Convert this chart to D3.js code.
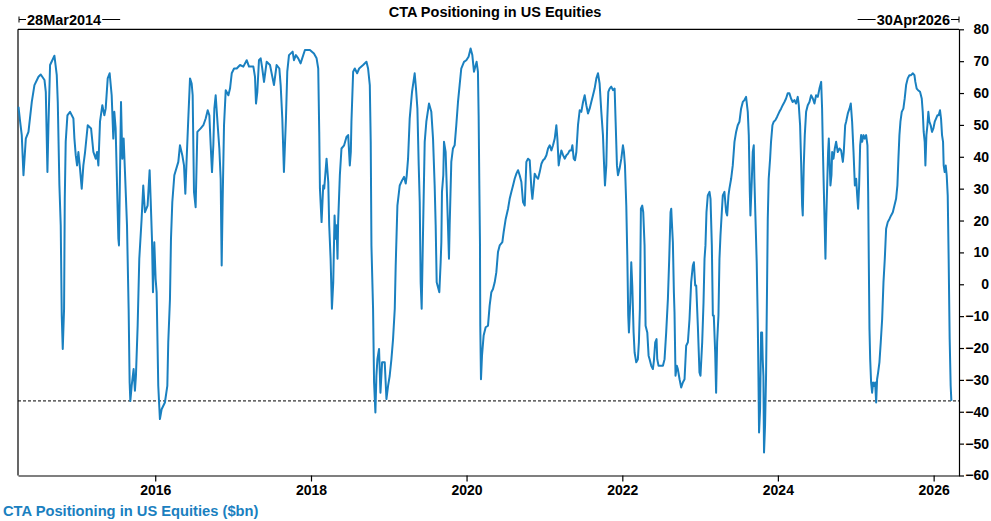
<!DOCTYPE html>
<html>
<head>
<meta charset="utf-8">
<script src="https://cdn.jsdelivr.net/npm/d3@7"></script>
<style>
  body { margin: 0; background: #fff; }
  svg { display: block; font-family: "Liberation Sans", Arial, sans-serif; }
</style>
</head>
<body>
<svg id="chart"></svg>
<script>
// CTA positioning ($bn). Dates as decimal years
const yearFrac = [
  2014.242, 2014.263, 2014.284, 2014.306, 2014.336, 2014.370, 2014.413, 2014.447, 2014.499, 2014.528,
  2014.576, 2014.593, 2014.614, 2014.627, 2014.648, 2014.704, 2014.734, 2014.747, 2014.768, 2014.785,
  2014.798, 2014.811, 2014.828, 2014.837, 2014.849, 2014.871, 2014.905, 2014.948, 2014.961, 2014.978,
  2014.995, 2015.012, 2015.033, 2015.055, 2015.076, 2015.098, 2015.132, 2015.175, 2015.205, 2015.235,
  2015.252, 2015.269, 2015.290, 2015.320, 2015.346, 2015.363, 2015.389, 2015.414, 2015.440, 2015.461,
  2015.474, 2015.491, 2015.526, 2015.534, 2015.560, 2015.577, 2015.594, 2015.611, 2015.637, 2015.658,
  2015.671, 2015.680, 2015.697, 2015.722, 2015.739, 2015.752, 2015.774, 2015.795, 2015.825, 2015.846,
  2015.868, 2015.902, 2015.928, 2015.941, 2015.958, 2015.971, 2015.988, 2016.005, 2016.018, 2016.039,
  2016.060, 2016.082, 2016.124, 2016.155, 2016.167, 2016.189, 2016.202, 2016.219, 2016.245, 2016.296,
  2016.317, 2016.347, 2016.369, 2016.386, 2016.403, 2016.424, 2016.446, 2016.467, 2016.480, 2016.497,
  2016.518, 2016.540, 2016.583, 2016.617, 2016.647, 2016.673, 2016.694, 2016.711, 2016.728, 2016.745,
  2016.758, 2016.775, 2016.801, 2016.822, 2016.839, 2016.852, 2016.865, 2016.882, 2016.904, 2016.938,
  2016.959, 2016.981, 2017.011, 2017.045, 2017.088, 2017.130, 2017.173, 2017.203, 2017.259, 2017.280,
  2017.293, 2017.310, 2017.331, 2017.353, 2017.370, 2017.396, 2017.430, 2017.473, 2017.524, 2017.558,
  2017.593, 2017.610, 2017.631, 2017.652, 2017.678, 2017.695, 2017.717, 2017.764, 2017.781, 2017.806,
  2017.836, 2017.866, 2017.922, 2017.986, 2018.038, 2018.072, 2018.093, 2018.106, 2018.115, 2018.136,
  2018.157, 2018.170, 2018.200, 2018.222, 2018.234, 2018.252, 2018.269, 2018.286, 2018.303, 2018.315,
  2018.328, 2018.341, 2018.349, 2018.371, 2018.392, 2018.426, 2018.456, 2018.478, 2018.499, 2018.512,
  2018.520, 2018.542, 2018.563, 2018.593, 2018.619, 2018.670, 2018.713, 2018.734, 2018.756, 2018.768,
  2018.777, 2018.798, 2018.811, 2018.828, 2018.841, 2018.854, 2018.875, 2018.893, 2018.914, 2018.948,
  2018.970, 2018.991, 2019.012, 2019.034, 2019.055, 2019.077, 2019.089, 2019.111, 2019.141, 2019.171,
  2019.196, 2019.218, 2019.231, 2019.248, 2019.269, 2019.299, 2019.333, 2019.350, 2019.368, 2019.385,
  2019.398, 2019.410, 2019.423, 2019.445, 2019.462, 2019.483, 2019.517, 2019.547, 2019.569, 2019.590,
  2019.603, 2019.616, 2019.650, 2019.667, 2019.676, 2019.684, 2019.701, 2019.710, 2019.731, 2019.761,
  2019.774, 2019.783, 2019.804, 2019.825, 2019.847, 2019.868, 2019.890, 2019.911, 2019.932, 2019.967,
  2019.997, 2020.026, 2020.052, 2020.074, 2020.095, 2020.129, 2020.146, 2020.155, 2020.163, 2020.172,
  2020.176, 2020.185, 2020.198, 2020.219, 2020.245, 2020.275, 2020.296, 2020.318, 2020.339, 2020.361,
  2020.382, 2020.403, 2020.425, 2020.459, 2020.476, 2020.502, 2020.532, 2020.553, 2020.575, 2020.596,
  2020.617, 2020.639, 2020.660, 2020.681, 2020.703, 2020.724, 2020.746, 2020.767, 2020.788, 2020.810,
  2020.831, 2020.844, 2020.861, 2020.874, 2020.895, 2020.917, 2020.938, 2020.960, 2020.981, 2021.002,
  2021.024, 2021.045, 2021.067, 2021.088, 2021.109, 2021.131, 2021.152, 2021.165, 2021.182, 2021.195,
  2021.216, 2021.238, 2021.259, 2021.281, 2021.302, 2021.323, 2021.345, 2021.358, 2021.375, 2021.392,
  2021.409, 2021.430, 2021.452, 2021.473, 2021.495, 2021.516, 2021.537, 2021.559, 2021.580, 2021.601,
  2021.623, 2021.644, 2021.666, 2021.687, 2021.708, 2021.730, 2021.751, 2021.764, 2021.777, 2021.794,
  2021.807, 2021.820, 2021.837, 2021.858, 2021.880, 2021.901, 2021.914, 2021.931, 2021.944, 2021.965,
  2021.987, 2022.008, 2022.021, 2022.034, 2022.051, 2022.064, 2022.076, 2022.085, 2022.102, 2022.115,
  2022.128, 2022.145, 2022.158, 2022.179, 2022.200, 2022.213, 2022.226, 2022.239, 2022.256, 2022.269,
  2022.286, 2022.299, 2022.321, 2022.338, 2022.351, 2022.372, 2022.393, 2022.406, 2022.423, 2022.440,
  2022.449, 2022.466, 2022.492, 2022.522, 2022.543, 2022.564, 2022.586, 2022.603, 2022.620, 2022.629,
  2022.637, 2022.650, 2022.663, 2022.671, 2022.684, 2022.701, 2022.714, 2022.736, 2022.757, 2022.778,
  2022.800, 2022.821, 2022.843, 2022.864, 2022.885, 2022.907, 2022.920, 2022.937, 2022.950, 2022.971,
  2022.992, 2023.005, 2023.027, 2023.044, 2023.057, 2023.069, 2023.082, 2023.099, 2023.121, 2023.134,
  2023.151, 2023.164, 2023.176, 2023.194, 2023.206, 2023.219, 2023.236, 2023.249, 2023.262, 2023.279,
  2023.292, 2023.313, 2023.335, 2023.348, 2023.365, 2023.377, 2023.399, 2023.420, 2023.442, 2023.463,
  2023.484, 2023.506, 2023.527, 2023.549, 2023.570, 2023.591, 2023.613, 2023.626, 2023.639, 2023.647,
  2023.664, 2023.677, 2023.690, 2023.698, 2023.711, 2023.728, 2023.741, 2023.750, 2023.758, 2023.771,
  2023.784, 2023.797, 2023.805, 2023.814, 2023.822, 2023.835, 2023.848, 2023.861, 2023.870, 2023.882,
  2023.900, 2023.912, 2023.930, 2023.947, 2023.968, 2023.989, 2024.019, 2024.041, 2024.062, 2024.084,
  2024.105, 2024.126, 2024.148, 2024.169, 2024.190, 2024.212, 2024.233, 2024.255, 2024.268, 2024.285,
  2024.298, 2024.311, 2024.319, 2024.332, 2024.345, 2024.362, 2024.383, 2024.405, 2024.426, 2024.448,
  2024.469, 2024.490, 2024.512, 2024.533, 2024.555, 2024.567, 2024.576, 2024.589, 2024.602, 2024.610,
  2024.619, 2024.632, 2024.644, 2024.653, 2024.661, 2024.674, 2024.687, 2024.696, 2024.713, 2024.730,
  2024.747, 2024.768, 2024.790, 2024.811, 2024.833, 2024.845, 2024.863, 2024.875, 2024.897, 2024.918,
  2024.935, 2024.952, 2024.970, 2024.987, 2025.004, 2025.017, 2025.029, 2025.042, 2025.055, 2025.068,
  2025.081, 2025.098, 2025.115, 2025.132, 2025.149, 2025.158, 2025.166, 2025.175, 2025.184, 2025.196,
  2025.209, 2025.222, 2025.235, 2025.248, 2025.261, 2025.273, 2025.286, 2025.303, 2025.320, 2025.338,
  2025.355, 2025.372, 2025.389, 2025.410, 2025.432, 2025.453, 2025.475, 2025.496, 2025.517, 2025.534,
  2025.547, 2025.560, 2025.573, 2025.590, 2025.611, 2025.628, 2025.646, 2025.667, 2025.688, 2025.710,
  2025.731, 2025.753, 2025.765, 2025.782, 2025.800, 2025.825, 2025.847, 2025.860, 2025.872, 2025.885,
  2025.894, 2025.907, 2025.920, 2025.932, 2025.945, 2025.962, 2025.979, 2025.997, 2026.014, 2026.031,
  2026.048, 2026.065, 2026.082, 2026.095, 2026.108, 2026.121, 2026.129, 2026.142, 2026.155, 2026.168,
  2026.181, 2026.193, 2026.206, 2026.219, 2026.228
];

const values = [
  55.7, 51.0, 46.8, 34.2, 45.7, 47.8, 57.2, 62.5, 65.1, 65.8,
  64.1, 60.4, 35.2, 49.9, 68.8, 71.7, 65.6, 57.2, 31.0, 18.5,
  -9.8, -20.3, -7.7, 26.8, 44.7, 53.0, 54.1, 52.0, 45.7, 40.5,
  37.3, 41.5, 36.3, 30.0, 37.3, 41.5, 49.9, 48.9, 41.5, 39.4,
  41.5, 37.3, 51.0, 56.2, 53.0, 55.1, 64.6, 66.2, 59.3, 45.7,
  54.1, 48.9, 14.3, 12.2, 57.2, 39.4, 45.7, 35.2, 18.5, -7.7,
  -30.8, -36.6, -31.9, -26.6, -33.4, -28.7, -13.0, 8.0, 20.5, 31.0,
  22.6, 24.7, 35.8, 26.8, 14.3, -2.5, 13.2, 1.7, -2.5, -31.9,
  -42.3, -39.2, -37.1, -31.9, -18.2, -4.6, 14.3, 25.8, 34.2, 38.4,
  43.6, 40.5, 37.3, 28.4, 39.4, 52.0, 64.6, 63.0, 59.3, 29.0,
  24.2, 47.8, 48.9, 49.9, 52.0, 54.6, 53.0, 43.6, 35.2, 43.6,
  55.1, 59.3, 49.9, 42.6, 33.1, 5.9, 26.9, 49.9, 60.9, 59.3,
  61.4, 66.2, 67.7, 67.7, 68.8, 68.3, 70.3, 68.3, 68.3, 65.1,
  56.7, 60.4, 70.3, 70.9, 68.3, 63.5, 69.8, 68.8, 62.5, 68.8,
  67.7, 62.5, 52.0, 35.2, 52.0, 66.7, 71.9, 73.0, 70.3, 71.9,
  70.9, 69.3, 73.5, 73.5, 72.4, 70.9, 67.7, 47.8, 30.0, 19.5,
  31.0, 30.0, 39.4, 32.1, 18.5, 8.0, -7.7, 0.6, 21.6, 14.3,
  18.5, 8.0, 19.5, 34.2, 42.6, 43.6, 46.2, 46.8, 37.3, 41.5,
  51.0, 66.7, 67.7, 66.2, 67.7, 68.8, 69.8, 67.7, 62.5, 44.7,
  12.2, -7.7, -30.8, -40.2, -28.7, -23.5, -20.3, -34.0, -24.5, -24.5,
  -36.0, -31.9, -28.7, -23.5, -17.2, -7.7, 5.9, 24.7, 31.0, 32.6,
  33.7, 31.6, 34.2, 39.4, 52.0, 60.4, 66.2, 61.4, 55.1, 37.3,
  25.8, 0.6, -7.7, 22.6, 44.7, 51.0, 56.7, 54.1, 45.7, 31.0,
  18.5, 0.6, -2.5, 6.9, 13.2, 29.0, 34.2, 44.7, 41.5, 18.5,
  8.0, 18.5, 38.4, 42.6, 43.6, 49.9, 57.2, 62.5, 67.7, 69.8,
  70.3, 71.4, 74.0, 71.9, 66.7, 69.8, 66.7, 53.0, 33.1, 13.2,
  -13.0, -29.8, -22.4, -16.1, -13.5, -13.0, -6.7, -2.5, -1.5, 0.6,
  3.8, 10.1, 12.2, 13.2, 16.4, 20.5, 23.7, 26.8, 29.0, 31.0,
  33.1, 34.7, 35.8, 34.2, 32.1, 25.8, 24.7, 38.4, 39.4, 38.9,
  30.0, 26.8, 31.0, 34.7, 33.7, 33.1, 35.2, 37.8, 38.9, 39.4,
  40.5, 42.6, 43.6, 42.0, 43.6, 45.7, 49.9, 45.7, 37.3, 39.4,
  42.0, 40.5, 39.4, 40.5, 41.0, 42.0, 42.0, 43.6, 39.4, 38.9,
  41.5, 49.9, 54.6, 54.1, 57.2, 59.3, 56.2, 53.6, 55.1, 57.2,
  59.3, 61.4, 64.6, 66.2, 63.0, 54.1, 46.8, 38.4, 31.0, 37.3,
  52.0, 60.4, 61.4, 62.0, 60.9, 61.4, 51.0, 37.3, 34.2, 36.3,
  39.4, 43.6, 41.5, 37.3, 24.7, 9.0, -9.8, -15.1, -5.7, 6.9,
  -0.4, -15.1, -21.4, -24.5, -23.5, -18.2, -7.7, 23.7, 24.7, 22.6,
  12.2, -13.0, -15.1, -22.4, -23.5, -25.6, -26.6, -24.0, -18.2, -17.2,
  -23.5, -25.6, -25.6, -25.6, -23.5, -15.1, -4.6, 8.0, 22.6, 23.7,
  19.5, 13.2, -2.5, -8.8, -28.7, -25.6, -26.6, -29.8, -32.4, -30.8,
  -29.8, -19.3, -18.2, -10.9, 0.6, 5.9, 6.9, -0.4, -0.4, -13.0,
  -27.7, -28.7, -18.2, -5.7, 8.0, 12.2, 22.6, 27.9, 29.0, 26.8,
  12.2, -9.8, -9.8, -21.4, -34.0, -18.2, -9.8, 8.0, 15.3, 22.6,
  27.9, 29.0, 22.6, 21.6, 27.9, 30.0, 33.1, 37.3, 44.7, 47.8,
  49.9, 51.0, 55.1, 57.2, 57.8, 58.8, 54.1, 46.8, 29.0, 21.6,
  32.1, 41.5, 43.6, 33.1, 21.6, 6.8, -10.9, -28.7, -46.5, -39.2,
  -15.1, -15.1, -23.5, -28.7, -52.8, -44.4, -28.7, -0.4, 20.5, 33.1,
  39.4, 44.7, 49.9, 51.0, 51.5, 52.5, 54.1, 55.1, 56.2, 57.2,
  58.3, 59.9, 59.9, 58.3, 57.2, 57.8, 56.7, 58.8, 56.2, 49.9,
  38.4, 24.7, 21.6, 37.3, 46.8, 54.1, 56.2, 57.2, 59.3, 58.3,
  56.7, 59.3, 58.8, 61.4, 63.5, 55.1, 43.6, 30.0, 16.4, 8.0,
  19.5, 31.0, 41.5, 45.7, 40.5, 31.0, 34.2, 41.5, 39.4, 42.6,
  44.7, 41.5, 42.6, 42.0, 38.4, 41.5, 49.9, 51.0, 53.6, 55.1,
  56.7, 51.0, 41.5, 31.0, 33.1, 27.9, 23.7, 31.0, 43.6, 46.8,
  44.7, 46.8, 45.7, 46.8, 43.6, 29.0, 8.0, -14.0, -23.5, -30.8,
  -34.0, -30.8, -31.9, -30.8, -37.1, -29.8, -27.7, -24.5, -18.2, -10.9,
  0.6, 8.0, 17.4, 19.5, 20.5, 21.6, 22.6, 24.7, 26.8, 31.0,
  39.4, 46.8, 51.0, 54.1, 55.1, 58.3, 62.5, 64.6, 65.6, 65.6,
  66.2, 65.6, 63.5, 61.4, 60.9, 60.4, 58.3, 54.1, 47.8, 44.7,
  37.3, 46.8, 49.9, 54.1, 51.0, 49.9, 47.8, 48.9, 51.0, 52.0,
  53.0, 53.0, 54.6, 52.0, 46.8, 44.7, 37.3, 35.2, 37.3, 34.2,
  27.9, 8.0, -17.2, -31.9, -36.6
];

const yTicks = [-60, -50, -40, -30, -20, -10, 0, 10, 20, 30, 40, 50, 60, 70, 80];
const xTickYears = [2016, 2018, 2020, 2022, 2024, 2026];
const startLabel = "28Mar2014";
const endLabel = "30Apr2026";
const chartTitle = "CTA Positioning in US Equities";
const seriesName = "CTA Positioning in US Equities ($bn)";

const width = 991, height = 521;
const margin = { top: 29.3, right: 32, bottom: 45.5, left: 18 };
const lineColor = "#1a80c0";

// decimal year -> Date
function fracToDate(f) {
    const y = Math.floor(f);
    const a = new Date(y, 0, 1), b = new Date(y + 1, 0, 1);
    return new Date(+a + (f - y) * (b - a));
}

const data = yearFrac.map((f, i) => ({ date: fracToDate(f), value: values[i] }));

const svg = d3.select("#chart")
    .attr("width", width)
    .attr("height", height);

const x = d3.scaleTime()
    .domain([new Date(2014, 2, 28), new Date(2026, 3, 30)])
    .range([margin.left, width - margin.right]);

const y = d3.scaleLinear()
    .domain([-60, 80])
    .range([height - margin.bottom, margin.top]);

// frame: top and left edges
svg.append("line")
    .attr("x1", margin.left).attr("x2", width - margin.right)
    .attr("y1", margin.top).attr("y2", margin.top)
    .attr("stroke", "#000").attr("stroke-width", 1.2);
svg.append("line")
    .attr("x1", margin.left).attr("x2", margin.left)
    .attr("y1", margin.top).attr("y2", height - margin.bottom)
    .attr("stroke", "#000").attr("stroke-width", 1.2);

// x axis
const xAxis = d3.axisBottom(x)
    .tickValues(xTickYears.map(yr => new Date(yr, 0, 1)))
    .tickFormat(d3.timeFormat("%Y"))
    .tickSize(6)
    .tickSizeOuter(0)
    .tickPadding(4);

const xAxisG = svg.append("g")
    .attr("transform", `translate(0,${height - margin.bottom})`)
    .call(xAxis);

// y axis on the right
const yAxis = d3.axisRight(y)
    .tickValues(yTicks)
    .tickSize(5)
    .tickSizeOuter(0)
    .tickPadding(4);

const yAxisG = svg.append("g")
    .attr("transform", `translate(${width - margin.right},0)`)
    .call(yAxis);

yAxisG.selectAll("text")
    .attr("text-anchor", "end")
    .attr("x", 30);

[xAxisG, yAxisG].forEach(g => {
    g.selectAll(".domain").attr("stroke", "#000").attr("stroke-width", 1.2);
    g.selectAll(".tick line").attr("stroke", "#000").attr("stroke-width", 1.2);
    g.selectAll("text")
        .attr("fill", "#000")
        .style("font-family", '"Liberation Sans", Arial, sans-serif')
        .style("font-size", "14px")
        .style("font-weight", "bold");
});

// dashed reference at latest value
const lastVal = values[values.length - 1];
svg.append("line")
    .attr("x1", margin.left).attr("x2", width - margin.right)
    .attr("y1", y(lastVal)).attr("y2", y(lastVal))
    .attr("stroke", "#000")
    .attr("stroke-width", 1)
    .attr("stroke-dasharray", "3,2");

// series line
const line = d3.line()
    .x(d => x(d.date))
    .y(d => y(d.value));

svg.append("path")
    .datum(data)
    .attr("fill", "none")
    .attr("stroke", lineColor)
    .attr("stroke-width", 2)
    .attr("stroke-linejoin", "round")
    .attr("d", line);

// date range markers at top
const markY = 19.5;
const x0 = x.range()[0], x1 = x.range()[1];

const startT = svg.append("text")
    .attr("x", x0 + 9).attr("y", markY + 5)
    .style("font-size", "14.5px").style("font-weight", "bold")
    .text(startLabel);
const sw = startT.node().getComputedTextLength();
svg.append("line").attr("x1", x0 + 1).attr("x2", x0 + 1).attr("y1", markY - 3).attr("y2", markY + 3)
    .attr("stroke", "#000");
svg.append("line").attr("x1", x0 + 1).attr("x2", x0 + 8).attr("y1", markY).attr("y2", markY)
    .attr("stroke", "#000");
svg.append("line").attr("x1", x0 + 10 + sw).attr("x2", x0 + 28 + sw).attr("y1", markY).attr("y2", markY)
    .attr("stroke", "#000");

const endT = svg.append("text")
    .attr("x", x1 - 9).attr("y", markY + 5)
    .attr("text-anchor", "end")
    .style("font-size", "14.5px").style("font-weight", "bold")
    .text(endLabel);
const ew = endT.node().getComputedTextLength();
svg.append("line").attr("x1", x1).attr("x2", x1).attr("y1", markY - 3).attr("y2", markY + 3)
    .attr("stroke", "#000");
svg.append("line").attr("x1", x1 - 8).attr("x2", x1).attr("y1", markY).attr("y2", markY)
    .attr("stroke", "#000");
svg.append("line").attr("x1", x1 - 28 - ew).attr("x2", x1 - 10 - ew).attr("y1", markY).attr("y2", markY)
    .attr("stroke", "#000");

// title
svg.append("text")
    .attr("x", 495).attr("y", 17)
    .attr("text-anchor", "middle")
    .style("font-size", "14.5px").style("font-weight", "bold")
    .text(chartTitle);

// series label bottom-left
svg.append("text")
    .attr("x", 3).attr("y", 516)
    .attr("fill", lineColor)
    .style("font-size", "14.7px").style("font-weight", "bold")
    .text(seriesName);
</script>
</body>
</html>
